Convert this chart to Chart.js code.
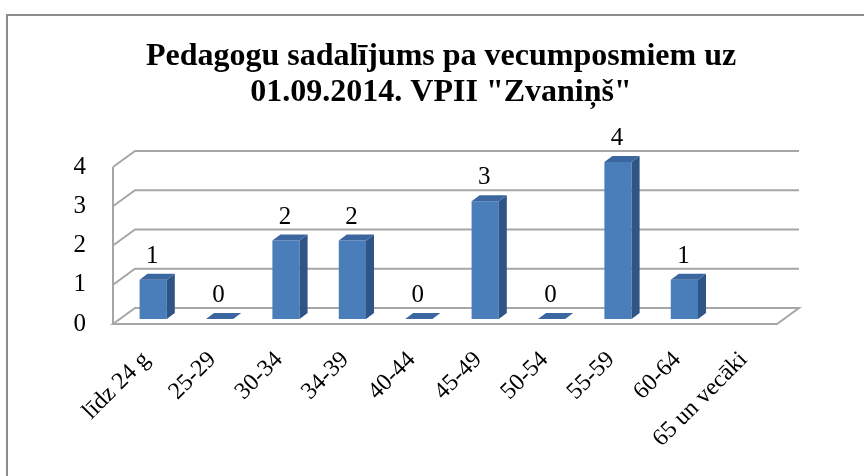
<!DOCTYPE html>
<html>
<head>
<meta charset="utf-8">
<script src="https://cdn.jsdelivr.net/npm/chart.js@4.4.1/dist/chart.umd.min.js"></script>
<style>
  html, body { margin: 0; padding: 0; background: #fff; }
  #wrap { position: relative; width: 864px; height: 476px; overflow: hidden; }
  #frame { position: absolute; left: 6px; top: 14px; width: 900px; height: 500px;
           border-left: 2px solid #8c8c8c; border-top: 2px solid #8c8c8c; }
  canvas { position: absolute; left: 0; top: 0; }
</style>
</head>
<body>
<div id="wrap">
  <div id="frame"></div>
  <canvas id="ageChart" width="864" height="476"></canvas>
</div>
<script>
// Data
const titleLines = ['Pedagogu sadalījums pa vecumposmiem uz', '01.09.2014. VPII "Zvaniņš"'];
const ageGroups = ['līdz 24 g', '25-29', '30-34', '34-39', '40-44', '45-49', '50-54', '55-59', '60-64', '65 un vecāki'];
const teacherCounts = [1, 0, 2, 2, 0, 3, 0, 4, 1, null];
const yTicks = [0, 1, 2, 3, 4];

// 3D look
const WALL_DX = 22, WALL_DY = -16;   // back wall offset from the front plane
const BAR_DX = 7, BAR_DY = -5;       // bars sit a bit inside the floor
const SIDE_DX = 8, SIDE_DY = -6;     // bar depth
const SERIF = '"Liberation Serif", "Times New Roman", serif';

const threeD = {
    id: 'threeD',
    beforeDatasetsDraw(chart) {
        const { ctx, chartArea: a, scales: { y } } = chart;
        ctx.save();
        ctx.strokeStyle = '#a6a6a6';
        ctx.lineWidth = 2;
        ctx.beginPath();
        yTicks.forEach(v => {
            const yy = y.getPixelForValue(v);
            if (v !== 0) {
                ctx.moveTo(a.left, yy);
                ctx.lineTo(a.left + WALL_DX, yy + WALL_DY);
                ctx.lineTo(a.right + WALL_DX, yy + WALL_DY);
            } else {
                ctx.moveTo(a.left + WALL_DX, yy + WALL_DY);
                ctx.lineTo(a.right + WALL_DX, yy + WALL_DY);
                ctx.lineTo(a.right, yy);
                ctx.lineTo(a.left, yy);
                ctx.closePath();
            }
        });
        ctx.moveTo(a.left, y.getPixelForValue(0));
        ctx.lineTo(a.left, y.getPixelForValue(yTicks[yTicks.length - 1]));
        ctx.stroke();
        ctx.restore();
    },
    beforeDatasetDraw(chart) {
        chart.ctx.save();
        chart.ctx.translate(BAR_DX, BAR_DY);
    },
    afterDatasetDraw(chart, args) {
        const ctx = chart.ctx;
        const meta = chart.getDatasetMeta(args.index);
        meta.data.forEach((bar, i) => {
            const v = teacherCounts[i];
            if (v === null) return;
            const l = bar.x - bar.width / 2, r = bar.x + bar.width / 2;
            const t = bar.y, b = bar.base;
            // side
            ctx.fillStyle = '#2f5586';
            ctx.beginPath();
            ctx.moveTo(r, t); ctx.lineTo(r + SIDE_DX, t + SIDE_DY);
            ctx.lineTo(r + SIDE_DX, b + SIDE_DY); ctx.lineTo(r, b);
            ctx.closePath(); ctx.fill();
            // top
            ctx.fillStyle = '#3b66a0';
            ctx.beginPath();
            ctx.moveTo(l, t); ctx.lineTo(l + SIDE_DX, t + SIDE_DY);
            ctx.lineTo(r + SIDE_DX, t + SIDE_DY); ctx.lineTo(r, t);
            ctx.closePath(); ctx.fill();
            // value label
            ctx.fillStyle = '#000';
            ctx.font = '25px ' + SERIF;
            ctx.textAlign = 'center';
            ctx.textBaseline = 'alphabetic';
            ctx.fillText(String(v), bar.x - 1, t - 17);
        });
        ctx.restore();
    }
};

new Chart(document.getElementById('ageChart'), {
    type: 'bar',
    data: {
        labels: ageGroups,
        datasets: [{
            data: teacherCounts,
            backgroundColor: '#4a7ebb',
            borderWidth: 0,
            barPercentage: 0.41,
            categoryPercentage: 1.0
        }]
    },
    options: {
        responsive: false,
        animation: false,
        layout: { padding: { left: 18, right: 0, top: 0, bottom: 0 } },
        plugins: {
            legend: { display: false },
            tooltip: { enabled: false },
            title: {
                display: true,
                text: titleLines,
                color: '#000',
                font: { family: SERIF, size: 32, weight: 'bold', lineHeight: 1.125 },
                padding: { top: 39, bottom: 56 }
            }
        },
        scales: {
            x: {
                grid: { display: false },
                border: { display: false },
                ticks: {
                    color: '#000',
                    font: { family: SERIF, size: 24 },
                    minRotation: 45,
                    maxRotation: 45,
                    autoSkip: false,
                    padding: 14
                },
                afterFit: s => { s.height = 152; }
            },
            y: {
                min: 0,
                max: 4,
                grid: { display: false },
                border: { display: false },
                ticks: {
                    color: '#000',
                    font: { family: SERIF, size: 25 },
                    stepSize: 1,
                    padding: 19
                },
                afterFit: s => { s.width = 95; }
            },
            y2: {
                position: 'right',
                display: true,
                grid: { display: false },
                border: { display: false },
                ticks: { display: false },
                afterFit: s => { s.width = 87; }
            }
        }
    },
    plugins: [threeD]
});
</script>
</body>
</html>
